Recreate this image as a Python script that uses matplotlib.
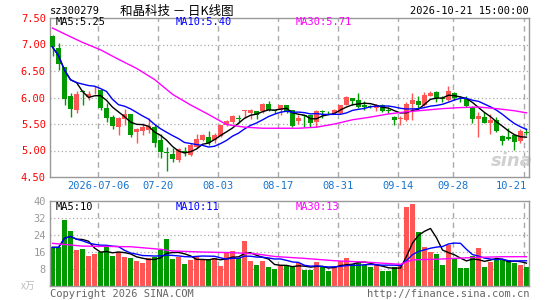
import matplotlib.pyplot as plt
import numpy as np
import pandas as pd

# daily K-line, 80 sessions ending 2026-10-21
opens = [7.16, 6.93, 6.57, 6.03, 5.76, 6.13, 6.01, 6.12, 6.15, 5.80,
         5.63, 5.45, 5.59, 5.69, 5.35, 5.36, 5.38, 5.44, 5.20, 4.97,
         4.93, 4.82, 5.00, 4.92, 5.07, 5.20, 5.25, 5.20, 5.28, 5.49,
         5.53, 5.61, 5.74, 5.71, 5.75, 5.74, 5.88, 5.77, 5.76, 5.86,
         5.76, 5.56, 5.67, 5.67, 5.54, 5.75, 5.75, 5.71, 5.70, 5.86,
         6.00, 5.95, 5.86, 5.84, 5.80, 5.86, 5.77, 5.64, 5.60, 5.58,
         5.88, 5.94, 5.86, 6.03, 6.11, 5.99, 5.96, 6.09, 6.00, 5.97,
         5.83, 5.60, 5.63, 5.52, 5.57, 5.27, 5.26, 5.29, 5.17, 5.34]
closes = [6.95, 6.63, 5.97, 5.79, 6.07, 6.11, 6.06, 6.13, 5.81, 5.62,
          5.47, 5.61, 5.69, 5.29, 5.41, 5.44, 5.46, 5.14, 4.98, 4.96,
          4.84, 5.03, 4.96, 5.10, 5.21, 5.29, 5.14, 5.29, 5.48, 5.56,
          5.65, 5.59, 5.76, 5.76, 5.67, 5.88, 5.76, 5.74, 5.85, 5.75,
          5.46, 5.62, 5.65, 5.52, 5.74, 5.73, 5.74, 5.76, 5.86, 6.01,
          5.94, 5.82, 5.83, 5.82, 5.86, 5.75, 5.74, 5.58, 5.61, 5.88,
          5.96, 5.86, 6.04, 6.09, 5.99, 5.97, 6.13, 5.99, 5.97, 5.84,
          5.60, 5.66, 5.52, 5.57, 5.36, 5.18, 5.22, 5.16, 5.37, 5.33]
highs = [7.17, 7.02, 6.57, 6.08, 6.12, 6.15, 6.12, 6.22, 6.15, 5.89,
         5.67, 5.63, 5.79, 5.69, 5.43, 5.52, 5.61, 5.48, 5.31, 5.07,
         5.04, 5.04, 5.07, 5.14, 5.31, 5.31, 5.36, 5.33, 5.49, 5.57,
         5.67, 5.67, 5.77, 5.78, 5.75, 5.89, 5.93, 5.77, 5.85, 5.86,
         5.76, 5.67, 5.67, 5.67, 5.76, 5.76, 5.75, 5.79, 5.86, 6.03,
         6.00, 6.08, 5.93, 5.86, 5.88, 5.88, 5.82, 5.65, 5.65, 5.92,
         6.08, 6.02, 6.11, 6.13, 6.13, 6.02, 6.21, 6.11, 6.03, 6.03,
         5.84, 5.72, 5.73, 5.69, 5.63, 5.29, 5.42, 5.29, 5.40, 5.42]
lows = [6.79, 6.51, 5.86, 5.63, 5.70, 5.85, 5.96, 6.06, 5.76, 5.53,
        5.40, 5.29, 5.48, 5.26, 5.14, 5.29, 5.33, 5.07, 4.85, 4.62,
        4.79, 4.79, 4.90, 4.89, 5.04, 5.18, 5.11, 5.14, 5.26, 5.46,
        5.50, 5.52, 5.61, 5.59, 5.59, 5.70, 5.74, 5.70, 5.67, 5.70,
        5.45, 5.50, 5.44, 5.44, 5.44, 5.62, 5.69, 5.69, 5.69, 5.86,
        5.86, 5.80, 5.76, 5.80, 5.75, 5.73, 5.70, 5.48, 5.48, 5.56,
        5.58, 5.80, 5.84, 6.02, 5.92, 5.91, 5.94, 5.96, 5.91, 5.83,
        5.51, 5.26, 5.51, 5.32, 5.34, 5.10, 5.20, 5.01, 5.15, 5.29]
# volume, 10k shares
volumes = [18.1, 18.1, 31.0, 25.8, 16.9, 17.3, 14.0, 15.0, 16.1, 18.5,
           14.0, 16.0, 13.5, 13.1, 11.6, 10.7, 13.1, 13.5, 16.9, 22.1,
           12.6, 13.5, 10.2, 12.1, 13.7, 12.5, 12.5, 13.0, 9.5, 16.0,
           16.5, 13.0, 21.0, 11.5, 9.8, 11.8, 9.0, 8.0, 9.7, 9.5,
           8.8, 10.9, 7.3, 7.4, 11.2, 8.9, 6.8, 8.8, 11.8, 13.1,
           10.3, 10.9, 9.8, 8.7, 9.6, 7.1, 7.1, 8.7, 9.3, 37.0,
           38.6, 25.4, 18.1, 16.0, 15.0, 9.8, 19.2, 12.9, 8.2, 8.4,
           14.1, 17.9, 8.9, 11.3, 12.2, 12.0, 12.0, 10.8, 9.8, 8.7]

# MA30 lines need history before the window
ma30_idx = [0, 2, 5, 8, 11, 14, 17, 20, 23, 26, 29, 32, 35, 38, 41, 44, 47,
            50, 53, 56, 59, 62, 65, 68, 71, 74, 77, 79]
ma30_px = [7.31, 7.20, 7.04, 6.90, 6.72, 6.55, 6.34, 6.06, 5.86, 5.68, 5.49,
           5.44, 5.42, 5.42, 5.42, 5.44, 5.50, 5.58, 5.63, 5.69, 5.73, 5.76,
           5.79, 5.81, 5.82, 5.79, 5.75, 5.71]
vma30_idx = [0, 5, 13, 18, 20, 25, 30, 34, 37, 42, 47, 53, 58, 59, 60, 64,
             70, 75, 79]
vma30_val = [20.0, 18.7, 18.4, 17.2, 16.4, 15.9, 15.6, 15.0, 13.8, 12.9,
             11.8, 11.0, 10.1, 11.2, 12.2, 12.5, 13.3, 13.7, 13.7]

tick_pos = [7.6, 17.6, 27.6, 37.6, 47.6, 57.6, 66.7, 78.6]
tick_lab = ['2026-07-06', '07-20', '08-03', '08-17', '08-31', '09-14',
            '09-28', '10-21']

RED = '#ff5555'
GREEN = '#009900'
GRID = '#aaaaaa'
FRAME = '#999999'
MONO = 'DejaVu Sans Mono'

df = pd.DataFrame({'o': opens, 'c': closes, 'h': highs, 'l': lows, 'v': volumes})
x = np.arange(len(df))
up = df.c >= df.o
colors = np.where(up, RED, GREEN)
ma5 = df.c.rolling(5, min_periods=1).mean()
ma10 = df.c.rolling(10, min_periods=1).mean()
vma5 = df.v.rolling(5, min_periods=1).mean()
vma10 = df.v.rolling(10, min_periods=1).mean()

fig = plt.figure(figsize=(5.45, 3.0), dpi=100)
ax1 = fig.add_axes([50 / 545, 1 - 177 / 300, 479 / 545, 159 / 300])
ax2 = fig.add_axes([50 / 545, 1 - 285.7 / 300, 479 / 545, 84.7 / 300])

for ax in (ax1, ax2):
    ax.set_xlim(-0.42, 79.42)
    for s in ax.spines.values():
        s.set_color(FRAME)
        s.set_linewidth(1)
    ax.tick_params(length=0)
    ax.set_xticks([])
    for p in tick_pos:
        ax.axvline(p, color=GRID, lw=1, ls=(0, (4, 3)), zorder=0)

# price panel
ax1.set_ylim(4.5, 7.5)
for yv in [5.0, 5.5, 6.0, 6.5, 7.0]:
    ax1.axhline(yv, color=GRID, lw=0.9, ls=(0, (1, 2)), zorder=0)
ax1.vlines(x, df.l, df.h, colors=colors, lw=1, zorder=2)
body = (df.c - df.o).abs().clip(lower=0.012)
ax1.bar(x, body, bottom=np.minimum(df.o, df.c), width=0.8, color=colors,
        zorder=3, linewidth=0)
ax1.plot(x, ma5, color='black', lw=1, zorder=4)
ax1.plot(x, ma10, color='#0000ff', lw=1, zorder=4)
ax1.plot(ma30_idx, ma30_px, color='#ff00ff', lw=1, zorder=4)
ax1.set_yticks([4.5, 5.0, 5.5, 6.0, 6.5, 7.0, 7.5])
ax1.set_yticklabels(['%.2f' % v for v in [4.5, 5.0, 5.5, 6.0, 6.5, 7.0, 7.5]],
                    color='#ff0000', fontsize=7.5, family=MONO)
ax1.tick_params(axis='y', pad=3)

for p, lab in zip(tick_pos, tick_lab):
    ha = 'right' if lab == tick_lab[-1] else 'center'
    ax1.text(p + (0.4 if ha == 'right' else 0), 4.33, lab, ha=ha, va='center',
             color='#1874cd', fontsize=7.5, family=MONO)

ax1.text(0.5, 7.42, 'MA5:%.2f' % ma5.iloc[-1], color='black', fontsize=7.5,
         family=MONO, va='center')
ax1.text(20.5, 7.42, 'MA10:%.2f' % ma10.iloc[-1], color='#0000ff',
         fontsize=7.5, family=MONO, va='center')
ax1.text(40.5, 7.42, 'MA30:%.2f' % ma30_px[-1], color='#ff00ff',
         fontsize=7.5, family=MONO, va='center')
ax1.text(76.5, 4.8, 'sina', color='#d0d0d0', fontsize=13, style='italic',
         weight='bold', ha='center', va='center', zorder=1)

# volume panel
ax2.set_ylim(0, 40)
for yv in [8, 16, 24, 32]:
    ax2.axhline(yv, color=GRID, lw=0.9, ls=(0, (1, 2)), zorder=0)
ax2.bar(x, df.v, width=0.85, color=colors, linewidth=0, zorder=2)
ax2.plot(x, vma5, color='black', lw=1, zorder=4)
ax2.plot(x, vma10, color='#0000ff', lw=1, zorder=4)
ax2.plot(vma30_idx, vma30_val, color='#ff00ff', lw=1, zorder=4)
ax2.set_yticks([8, 16, 24, 32, 40])
ax2.set_yticklabels(['8', '16', '24', '32', '40'], color='#999999',
                    fontsize=7.5, family=MONO)
ax2.tick_params(axis='y', pad=3)
ax2.text(-0.03, 0.0, 'x万', transform=ax2.transAxes, ha='right', va='center',
         color='#bbbbbb', fontsize=7, family=['Noto Sans CJK SC', 'DejaVu Sans'])
ax2.text(0.5, 37.2, 'MA5:%d' % vma5.iloc[-1], color='black', fontsize=7.5,
         family=MONO, va='center')
ax2.text(20.5, 37.2, 'MA10:%d' % vma10.iloc[-1], color='#0000ff',
         fontsize=7.5, family=MONO, va='center')
ax2.text(40.5, 37.2, 'MA30:%d' % vma30_val[-1], color='#ff00ff',
         fontsize=7.5, family=MONO, va='center')

# header and footer
fig.text(50 / 545, 1 - 11 / 300, 'sz300279', fontsize=7.5, family=MONO,
         va='center', ha='left')
fig.text(177 / 545, 1 - 11 / 300, '和晶科技 － 日K线图', fontsize=9,
         family=['Noto Sans CJK SC', 'DejaVu Sans'], va='center', ha='center')
fig.text(529 / 545, 1 - 11 / 300, '2026-10-21 15:00:00', fontsize=7.5,
         family=MONO, va='center', ha='right')
fig.text(50 / 545, 1 - 294 / 300, 'Copyright 2026 SINA.COM', fontsize=7.5,
         family=MONO, va='center', ha='left', color='#666666')
fig.text(529 / 545, 1 - 294 / 300, 'http://finance.sina.com.cn', fontsize=7.5,
         family=MONO, va='center', ha='right', color='#666666')

fig.savefig('out.png', dpi=100, facecolor='white')
